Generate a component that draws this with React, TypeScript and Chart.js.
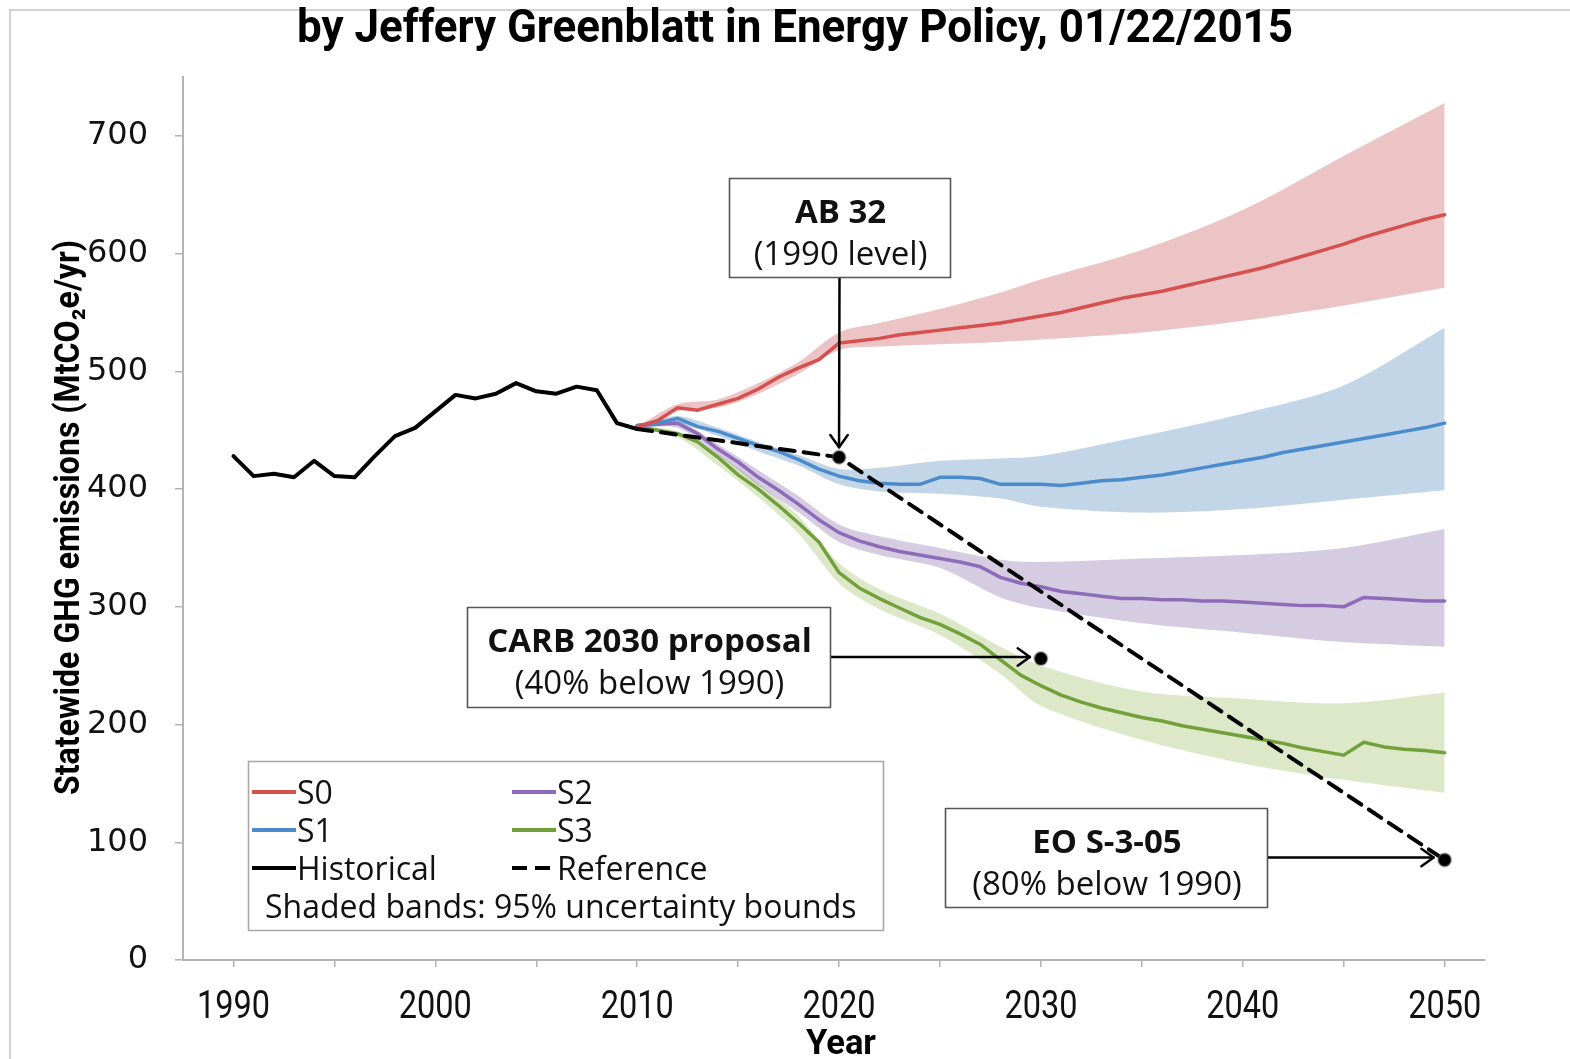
import React, { useEffect, useRef } from "react";
import { Chart, registerables } from "chart.js";

Chart.register(...registerables);

// ---------------- data ----------------
const titleText = "by Jeffery Greenblatt in Energy Policy, 01/22/2015";
const xAxisTitle = "Year";
const yAxisTitle = "Statewide GHG emissions (MtCO\u2082e/yr)";

const historicalYears = [1990, 1991, 1992, 1993, 1994, 1995, 1996, 1997, 1998, 1999, 2000, 2001, 2002, 2003, 2004, 2005, 2006, 2007, 2008, 2009, 2010];
const historicalValues = [428, 411, 413, 410, 424, 411, 410, 428, 445, 452, 466, 480, 477, 481, 490, 483, 481, 487, 484, 456, 451];

const scenarioYears = [2010, 2011, 2012, 2013, 2014, 2015, 2016, 2017, 2018, 2019, 2020, 2021, 2022, 2023, 2024, 2025, 2026, 2027, 2028, 2029, 2030, 2031, 2032, 2033, 2034, 2035, 2036, 2037, 2038, 2039, 2040, 2041, 2042, 2043, 2044, 2045, 2046, 2047, 2048, 2049, 2050];
const s0Values = [453, 458, 469, 467, 472, 477, 485, 495, 503, 510, 524, 526, 528, 531, 533, 535, 537, 539, 541, 544, 547, 550, 554, 558, 562, 565, 568, 572, 576, 580, 584, 588, 593, 598, 603, 608, 614, 619, 624, 629, 633];
const s1Values = [454, 456, 460, 453, 449, 443, 437, 432, 425, 417, 411, 407, 405, 404, 404, 410, 410, 409, 404, 404, 404, 403, 405, 407, 408, 410, 412, 415, 418, 421, 424, 427, 431, 434, 437, 440, 443, 446, 449, 452, 456];
const s2Values = [454, 455, 456, 447, 434, 423, 410, 399, 387, 374, 363, 356, 351, 347, 344, 341, 338, 334, 325, 320, 317, 313, 311, 309, 307, 307, 306, 306, 305, 305, 304, 303, 302, 301, 301, 300, 308, 307, 306, 305, 305];
const s3Values = [453, 450, 447, 440, 427, 412, 400, 386, 371, 355, 329, 316, 307, 299, 291, 285, 277, 268, 255, 242, 233, 225, 219, 214, 210, 206, 203, 199, 196, 193, 190, 187, 184, 180, 177, 174, 185, 181, 179, 178, 176];

const bandYears = [2010, 2012, 2014, 2016, 2018, 2020, 2022, 2025, 2028, 2030, 2035, 2040, 2045, 2050];
const s0Upper = [453, 472, 476, 490, 508, 533, 541, 553, 567, 578, 603, 637, 683, 728];
const s0Lower = [451, 466, 469, 481, 498, 518, 521, 523, 525, 527, 533, 543, 556, 571];
const s1Upper = [455, 462, 452, 440, 429, 417, 418, 424, 426, 428, 445, 464, 488, 537];
const s1Lower = [452, 456, 445, 432, 420, 404, 398, 396, 392, 385, 380, 383, 391, 399];
const s2Upper = [455, 458, 438, 416, 394, 370, 360, 350, 340, 338, 341, 344, 350, 366];
const s2Lower = [452, 452, 429, 403, 380, 355, 344, 333, 308, 299, 286, 278, 270, 266];
const s3Upper = [454, 449, 430, 405, 377, 337, 315, 294, 266, 250, 228, 222, 218, 227];
const s3Lower = [452, 444, 420, 393, 362, 320, 298, 276, 243, 216, 187, 167, 153, 142];

const referenceYears = [2010, 2020, 2050];
const referenceValues = [451, 427, 85];

const targetYears = [2020, 2030, 2050];
const targetValues = [427, 256, 85];

const annotationTitles = ["AB 32", "CARB 2030 proposal", "EO S-3-05"];
const annotationSubtitles = ["(1990 level)", "(40% below 1990)", "(80% below 1990)"];

const legendLabels = ["S0", "S1", "Historical", "S2", "S3", "Reference"];
const legendNote = "Shaded bands: 95% uncertainty bounds";

// ---------------- styles ----------------
const C = {
  s0: "#D5504E",
  s1: "#4A8BCB",
  s2: "#8E6BB8",
  s3: "#72A03B",
  s0Band: "rgba(208,107,110,0.40)",
  s1Band: "rgba(105,152,197,0.40)",
  s2Band: "rgba(152,127,182,0.40)",
  s3Band: "rgba(167,197,117,0.40)",
  axis: "#b4b4b4",
};

const pts = (xs: number[], ys: number[]) => xs.map((x, i) => ({ x, y: ys[i] }));

function fitText(
  ctx: CanvasRenderingContext2D,
  text: string,
  x: number,
  y: number,
  font: string,
  targetWidth: number,
  rotate = 0
) {
  ctx.save();
  ctx.font = font;
  const w = ctx.measureText(text).width;
  ctx.translate(x, y);
  if (rotate) ctx.rotate(rotate);
  ctx.scale(targetWidth / w, 1);
  ctx.textAlign = "center";
  ctx.textBaseline = "alphabetic";
  ctx.fillText(text, 0, 0);
  ctx.restore();
}

const framePlugin = {
  id: "frame",
  beforeDraw(chart: any) {
    const { ctx, width, height } = chart;
    ctx.save();
    ctx.fillStyle = "#ffffff";
    ctx.fillRect(0, 0, width, height);
    ctx.strokeStyle = "#d2d2d2";
    ctx.lineWidth = 2;
    ctx.beginPath();
    ctx.moveTo(10, height);
    ctx.lineTo(10, 10);
    ctx.lineTo(width, 10);
    ctx.stroke();
    ctx.restore();
  },
  afterDraw(chart: any) {
    const { ctx, chartArea, scales } = chart;
    ctx.save();
    ctx.fillStyle = "#000";
    fitText(ctx, titleText, 795, 42, "bold 46px Roboto", 996);
    fitText(ctx, xAxisTitle, 841, 1054, "bold 35px Roboto", 70);
    fitText(ctx, yAxisTitle, 79, (chartArea.top + chartArea.bottom) / 2 - 1, "bold 35px Roboto", 555, -Math.PI / 2);
    // x tick labels (condensed, like the original)
    ctx.fillStyle = "#111";
    scales.x.ticks.forEach((t: any) => {
      if (!t.label) return;
      const px = scales.x.getPixelForValue(t.value);
      fitText(ctx, String(t.label), px, 1018, "39px Roboto", 73);
    });
    ctx.restore();
  },
};

function arrowHead(ctx: CanvasRenderingContext2D, x: number, y: number, angle: number) {
  const len = 15;
  const spread = 0.62;
  ctx.beginPath();
  ctx.moveTo(x - len * Math.cos(angle - spread), y - len * Math.sin(angle - spread));
  ctx.lineTo(x, y);
  ctx.lineTo(x - len * Math.cos(angle + spread), y - len * Math.sin(angle + spread));
  ctx.stroke();
}

const annotationBoxes = [
  { left: 729, top: 178, width: 221, height: 99, dir: "down" },
  { left: 467, top: 607, width: 363, height: 100, dir: "right" },
  { left: 945, top: 808, width: 322, height: 99, dir: "right" },
];

const overlayPlugin = {
  id: "overlay",
  afterDatasetsDraw(chart: any) {
    const { ctx, scales } = chart;
    const xs = scales.x;
    const ys = scales.y;
    ctx.save();

    // ---- annotation boxes & arrows ----
    annotationBoxes.forEach((b, i) => {
      const tx = xs.getPixelForValue(targetYears[i]);
      const ty = ys.getPixelForValue(targetValues[i]);
      ctx.strokeStyle = "#000";
      ctx.lineWidth = 2.5;
      ctx.lineCap = "round";
      ctx.lineJoin = "round";
      if (b.dir === "down") {
        const sx = b.left + b.width / 2;
        const sy = b.top + b.height;
        const ey = ty - 10;
        ctx.beginPath();
        ctx.moveTo(sx, sy);
        ctx.lineTo(tx, ey);
        ctx.stroke();
        arrowHead(ctx, tx, ey, Math.PI / 2);
      } else {
        const sx = b.left + b.width;
        const sy = b.top + b.height / 2;
        const ex = tx - 11;
        ctx.beginPath();
        ctx.moveTo(sx, sy);
        ctx.lineTo(ex, sy);
        ctx.stroke();
        arrowHead(ctx, ex, sy, 0);
      }
      ctx.fillStyle = "#fff";
      ctx.fillRect(b.left, b.top, b.width, b.height);
      ctx.strokeStyle = "#555";
      ctx.lineWidth = 1.6;
      ctx.strokeRect(b.left + 0.5, b.top + 0.5, b.width, b.height);
      ctx.fillStyle = "#111";
      ctx.textAlign = "center";
      ctx.textBaseline = "alphabetic";
      const cx = b.left + b.width / 2 + 1;
      ctx.font = 'bold 33px "Open Sans"';
      ctx.fillText(annotationTitles[i], cx, b.top + 45);
      ctx.font = '33px "Open Sans"';
      ctx.fillText(annotationSubtitles[i], cx, b.top + 87);
    });

    // ---- legend ----
    const L = { left: 248, top: 761, width: 635, height: 169 };
    ctx.fillStyle = "#fff";
    ctx.fillRect(L.left, L.top, L.width, L.height);
    ctx.strokeStyle = "#a8a8a8";
    ctx.lineWidth = 1.6;
    ctx.strokeRect(L.left + 0.5, L.top + 0.5, L.width, L.height);

    const items = [
      { label: legendLabels[0], color: C.s0, dash: [], col: 0, row: 0 },
      { label: legendLabels[1], color: C.s1, dash: [], col: 0, row: 1 },
      { label: legendLabels[2], color: "#000", dash: [], col: 0, row: 2 },
      { label: legendLabels[3], color: C.s2, dash: [], col: 1, row: 0 },
      { label: legendLabels[4], color: C.s3, dash: [], col: 1, row: 1 },
      { label: legendLabels[5], color: "#000", dash: [15, 8], col: 1, row: 2 },
    ];
    const colX = [252, 512];
    const rowY = [792, 830, 868];
    ctx.font = '32px "Open Sans"';
    ctx.textAlign = "left";
    ctx.textBaseline = "alphabetic";
    items.forEach((it) => {
      const x0 = colX[it.col];
      const y0 = rowY[it.row];
      ctx.strokeStyle = it.color;
      ctx.lineWidth = 4;
      ctx.lineCap = "butt";
      ctx.setLineDash(it.dash);
      ctx.beginPath();
      ctx.moveTo(x0, y0);
      ctx.lineTo(x0 + 44, y0);
      ctx.stroke();
      ctx.setLineDash([]);
      ctx.fillStyle = "#111";
      ctx.fillText(it.label, x0 + 45, y0 + 12);
    });
    ctx.fillText(legendNote, 265, 918);
    ctx.restore();
  },
};

export default function App() {
  const canvasRef = useRef<HTMLCanvasElement | null>(null);

  useEffect(() => {
    if (!canvasRef.current) return;
    const lineDs = (label: string, xs: number[], ys: number[], color: string, width: number, dash: number[] = []) => ({
      label,
      data: pts(xs, ys),
      borderColor: color,
      backgroundColor: color,
      borderWidth: width,
      borderDash: dash,
      pointRadius: 0,
      fill: false,
      tension: 0,
      borderCapStyle: "round",
      borderJoinStyle: "round",
    });
    const bandDs = (label: string, ys: number[], color: string, fill: any) => ({
      label,
      data: pts(bandYears, ys),
      borderWidth: 0,
      borderColor: "rgba(0,0,0,0)",
      backgroundColor: color,
      pointRadius: 0,
      fill,
      tension: 0.3,
    });

    const chart = new Chart(canvasRef.current, {
      type: "line",
      data: {
        datasets: [
          {
            label: "Targets",
            data: pts(targetYears, targetValues),
            showLine: false,
            pointRadius: 6.5,
            pointBackgroundColor: "#000",
            pointBorderColor: "rgba(90,90,90,0.45)",
            pointBorderWidth: 2,
          } as any,
          lineDs("Reference", referenceYears, referenceValues, "#000", 4, [15, 9]),
          lineDs("Historical", historicalYears, historicalValues, "#000", 4),
          lineDs("S0", scenarioYears, s0Values, C.s0, 3.5),
          lineDs("S1", scenarioYears, s1Values, C.s1, 3.5),
          lineDs("S2", scenarioYears, s2Values, C.s2, 3.5),
          lineDs("S3", scenarioYears, s3Values, C.s3, 3.5),
          bandDs("S0 upper", s0Upper, C.s0Band, "+1"),
          bandDs("S0 lower", s0Lower, C.s0Band, false),
          bandDs("S1 upper", s1Upper, C.s1Band, "+1"),
          bandDs("S1 lower", s1Lower, C.s1Band, false),
          bandDs("S2 upper", s2Upper, C.s2Band, "+1"),
          bandDs("S2 lower", s2Lower, C.s2Band, false),
          bandDs("S3 upper", s3Upper, C.s3Band, "+1"),
          bandDs("S3 lower", s3Lower, C.s3Band, false),
        ] as any,
      },
      options: {
        animation: false,
        responsive: false,
        maintainAspectRatio: false,
        devicePixelRatio: 1,
        layout: { padding: { left: 0, top: 77, right: 85, bottom: 0 } },
        plugins: {
          legend: { display: false },
          tooltip: { enabled: false },
          title: { display: false },
        },
        scales: {
          x: {
            type: "linear",
            min: 1987.5,
            max: 2052,
            afterFit: (s: any) => {
              s.height = 99;
            },
            ticks: {
              stepSize: 5,
              includeBounds: false,
              autoSkip: false,
              maxRotation: 0,
              callback: (v: any) => (Number(v) % 10 === 0 ? String(v) : ""),
              font: { family: "Roboto", size: 38 },
              color: "rgba(0,0,0,0)",
              padding: 14,
            },
            grid: {
              drawOnChartArea: false,
              drawTicks: true,
              tickLength: 7,
              color: C.axis,
              lineWidth: 1.5,
            },
            border: { display: true, color: C.axis, width: 2 },
          },
          y: {
            type: "linear",
            min: 0,
            max: 750,
            afterFit: (s: any) => {
              s.width = 183;
            },
            ticks: {
              stepSize: 100,
              includeBounds: false,
              font: { family: "'DejaVu Sans'", size: 32 },
              color: "#111",
              padding: 27,
            },
            grid: {
              drawOnChartArea: false,
              drawTicks: true,
              tickLength: 8,
              color: C.axis,
              lineWidth: 1.5,
            },
            border: { display: true, color: C.axis, width: 2 },
          },
        },
      } as any,
      plugins: [framePlugin, overlayPlugin],
    });
    return () => chart.destroy();
  }, []);

  return (
    <div style={{ position: "absolute", left: 0, top: 0, width: 1570, height: 1059, background: "#fff" }}>
      <canvas ref={canvasRef} width={1570} height={1059} style={{ display: "block", width: 1570, height: 1059 }} />
    </div>
  );
}
